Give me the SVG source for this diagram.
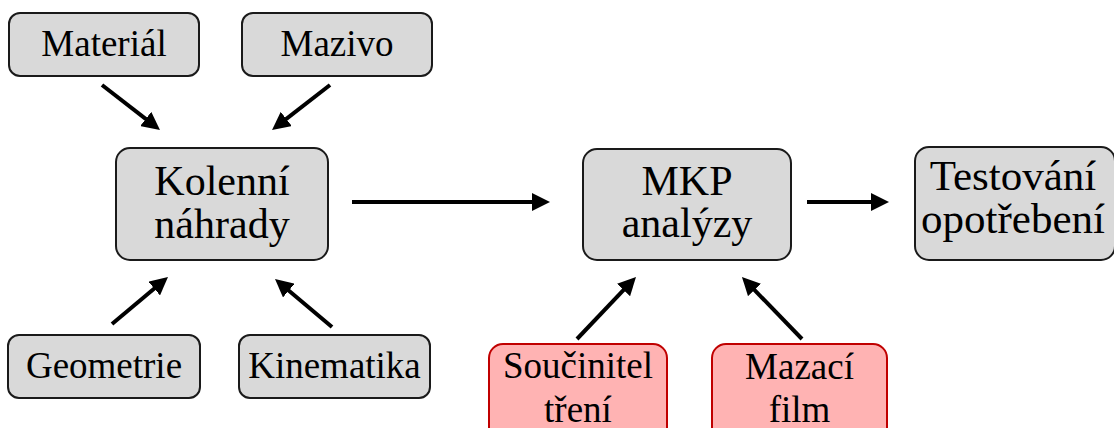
<svg xmlns="http://www.w3.org/2000/svg" width="1114" height="428" viewBox="0 0 1114 428">
  <style>
    .box { fill: #d9d9d9; stroke: #1a1a1a; stroke-width: 2; }
    .red { fill: #ffb3b3; stroke: #c00000; stroke-width: 2; }
    text { font-family: 'Liberation Serif', 'Times New Roman', 'DejaVu Serif', serif; fill: #000; text-anchor: middle; }
    .s { font-size: 37px; }
    .l { font-size: 42px; }
    .conn { stroke: #000; stroke-width: 4; fill: none; marker-end: url(#ah); }
  </style>
  <defs>
    <marker id="ah" markerUnits="userSpaceOnUse" viewBox="0 0 18 18" markerWidth="18" markerHeight="18" refX="6" refY="9" orient="auto">
      <path d="M0,0 L18,9 L0,18 z" fill="#000"/>
    </marker>
  </defs>
  <rect width="1114" height="428" fill="#fff"/>

  <g id="connectors">
    <line class="conn" x1="102" y1="85" x2="150.5" y2="122.6"/>
    <line class="conn" x1="330" y1="85" x2="281.5" y2="122.6"/>
    <line class="conn" x1="112" y1="324" x2="158.8" y2="284.7"/>
    <line class="conn" x1="332" y1="327" x2="284.2" y2="286.7"/>
    <line class="conn" x1="352" y1="202" x2="538" y2="202"/>
    <line class="conn" x1="577" y1="339" x2="627.7" y2="285.7"/>
    <line class="conn" x1="802" y1="339" x2="750.3" y2="285.6"/>
    <line class="conn" x1="807" y1="202" x2="877" y2="202"/>
  </g>

  <g id="material">
    <rect class="box" x="9" y="13" width="190" height="63" rx="11"/>
    <text class="s" font-family="Liberation Serif" x="104" y="56">Materiál</text>
  </g>
  <g id="mazivo">
    <rect class="box" x="242" y="13" width="190" height="63" rx="11"/>
    <text class="s" font-family="Liberation Serif" x="337" y="56">Mazivo</text>
  </g>
  <g id="kolenni">
    <rect class="box" x="116" y="148" width="212" height="112" rx="14"/>
    <text class="l" font-family="Liberation Serif" x="222" y="195">Kolenní</text>
    <text class="l" font-family="Liberation Serif" x="222" y="238">náhrady</text>
  </g>
  <g id="mkp">
    <rect class="box" x="583" y="149" width="208" height="111" rx="14"/>
    <text class="l" font-family="Liberation Serif" x="687" y="195">MKP</text>
    <text class="l" font-family="Liberation Serif" x="687" y="237">analýzy</text>
  </g>
  <g id="testovani">
    <rect class="box" x="915" y="147" width="200" height="113" rx="14"/>
    <text class="l" font-family="Liberation Serif" style="font-size:43px" x="1013" y="190">Testování</text>
    <text class="l" font-family="Liberation Serif" style="font-size:43px" x="1013" y="233">opotřebení</text>
  </g>
  <g id="geometrie">
    <rect class="box" x="8" y="335" width="192" height="63" rx="11"/>
    <text class="s" font-family="Liberation Serif" x="104" y="378">Geometrie</text>
  </g>
  <g id="kinematika">
    <rect class="box" x="239" y="335" width="191" height="63" rx="11"/>
    <text class="s" font-family="Liberation Serif" x="334.5" y="378">Kinematika</text>
  </g>
  <g id="soucinitel">
    <rect class="red" x="489" y="344" width="178" height="100" rx="14"/>
    <text class="s" font-family="Liberation Serif" x="578" y="378">Součinitel</text>
    <text class="s" font-family="Liberation Serif" x="578" y="422">tření</text>
  </g>
  <g id="mazaci">
    <rect class="red" x="712" y="344" width="175" height="100" rx="14"/>
    <text class="s" font-family="Liberation Serif" x="799.5" y="379">Mazací</text>
    <text class="s" font-family="Liberation Serif" x="799.5" y="422">film</text>
  </g>
</svg>
